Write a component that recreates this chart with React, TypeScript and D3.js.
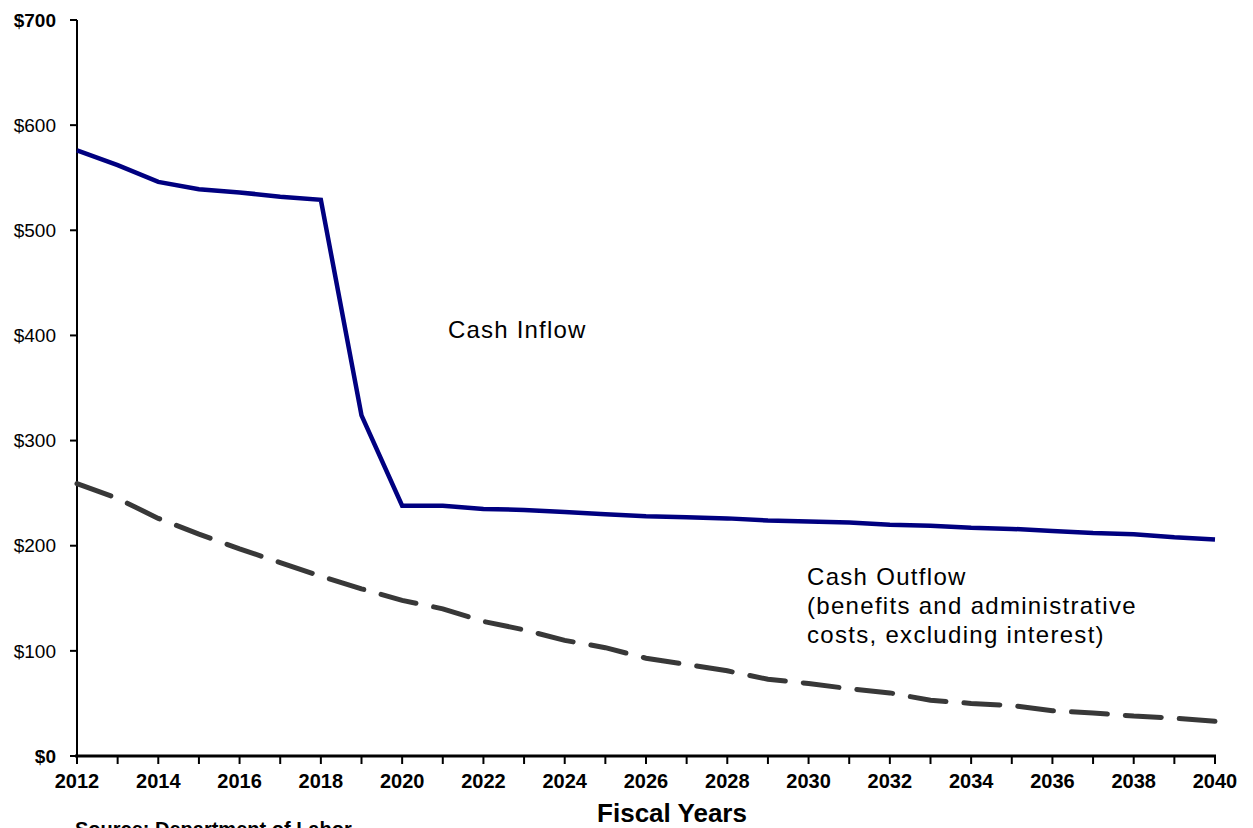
import React from "react";
import * as d3 from "d3";

const years = d3.range(2012, 2041);
const cashInflow = [576, 562, 546, 539, 536, 532, 529, 324, 238, 238, 235, 234, 232, 230, 228, 227, 226, 224, 223, 222, 220, 219, 217, 216, 214, 212, 211, 208, 206];
const cashOutflow = [259, 245, 226, 211, 197, 184, 171, 159, 148, 140, 128, 120, 110, 103, 93, 87, 81, 73, 69, 64, 60, 53, 50, 48, 43, 41, 38, 36, 33];
const yTicks = [0, 100, 200, 300, 400, 500, 600, 700];
const xLabelYears = d3.range(2012, 2041, 2);

export default function App() {
  const W = 1253, H = 828;
  const x = d3.scaleLinear().domain([2012, 2040]).range([77, 1215]);
  const y = d3.scaleLinear().domain([0, 700]).range([756, 20]);
  const line = d3.line<number>().x((_, i) => x(years[i])).y((d) => y(d));
  const font = "Arial, 'Liberation Sans', sans-serif";

  return (
    <svg width={W} height={H} style={{ position: "absolute", left: 0, top: 0, background: "#fff" }} fontFamily={font}>
      {/* y axis */}
      <line x1={77} x2={77} y1={y(700)} y2={y(0)} stroke="#000" strokeWidth={2} />
      {yTicks.map((t) => (
        <g key={t}>
          <line x1={70} x2={77} y1={y(t)} y2={y(t)} stroke="#000" strokeWidth={2} />
          <text x={56} y={y(t)} dy="0.35em" textAnchor="end" fontSize={19} fill="#000" fontWeight={t === 700 || t === 0 ? "bold" : "normal"}>
            {d3.format("$,")(t)}
          </text>
        </g>
      ))}
      {/* x axis */}
      <line x1={75} x2={1216} y1={y(0)} y2={y(0)} stroke="#000" strokeWidth={3} />
      {years.map((yr) => (
        <line key={yr} x1={x(yr)} x2={x(yr)} y1={y(0)} y2={y(0) + 8} stroke="#000" strokeWidth={2} />
      ))}
      {xLabelYears.map((yr) => (
        <text key={yr} x={x(yr)} y={788} textAnchor="middle" fontSize={20} fontWeight="bold" fill="#000">
          {yr}
        </text>
      ))}
      <text x={672} y={822} textAnchor="middle" fontSize={26} fontWeight="bold" fill="#000">Fiscal Years</text>
      <text x={75} y={836} fontSize={20} fontWeight="bold" fill="#000">Source: Department of Labor</text>

      {/* lines */}
      <path d={line(cashOutflow) || ""} fill="none" stroke="#383838" strokeWidth={5} strokeDasharray="36 18" strokeLinecap="round" />
      <path d={line(cashInflow) || ""} fill="none" stroke="#000080" strokeWidth={4.5} strokeLinejoin="miter" />

      {/* annotations */}
      <text x={448} y={338} fontSize={24} letterSpacing={1.2} fill="#000">Cash Inflow</text>
      <text fontSize={24} letterSpacing={1.3} fill="#000">
        <tspan x={807} y={585}>Cash Outflow</tspan>
        <tspan x={807} y={614}>(benefits and administrative</tspan>
        <tspan x={807} y={643}>costs, excluding interest)</tspan>
      </text>
    </svg>
  );
}
